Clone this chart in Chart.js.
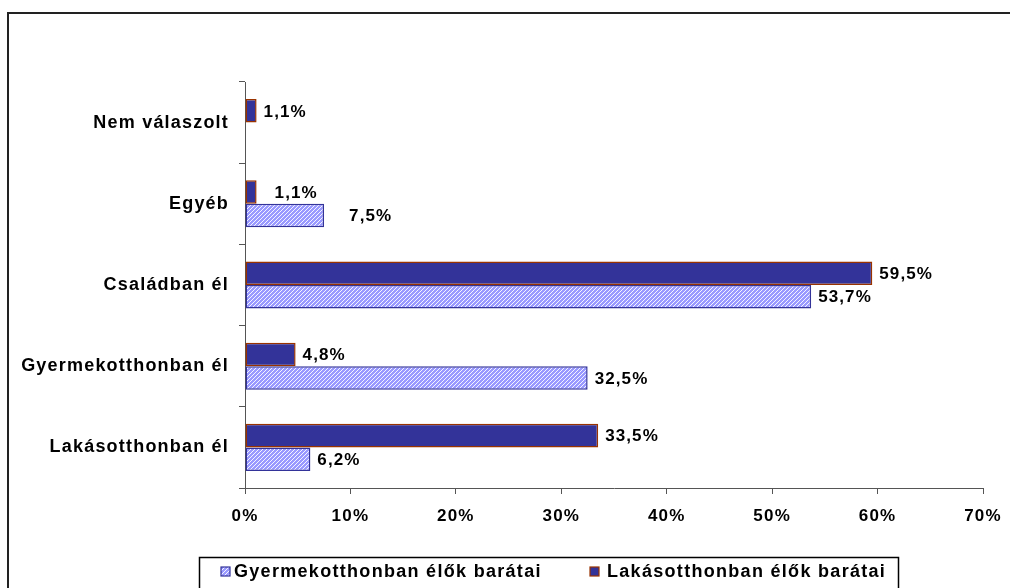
<!DOCTYPE html>
<html>
<head>
<meta charset="utf-8">
<script src="https://cdn.jsdelivr.net/npm/chart.js@4.4.0/dist/chart.umd.min.js"></script>
<style>
  html, body { margin: 0; padding: 0; background: #fff; }
  #wrap { width: 1010px; height: 588px; }
</style>
</head>
<body>
<div id="wrap"><canvas id="chart" width="1010" height="588"></canvas></div>
<script>
// categories top to bottom
const categories = ['Nem válaszolt', 'Egyéb', 'Családban él', 'Gyermekotthonban él', 'Lakásotthonban él'];
const seriesNames = ['Lakásotthonban élők barátai', 'Gyermekotthonban élők barátai'];
const lakasValues = [1.1, 1.1, 59.5, 4.8, 33.5];
const gyermekValues = [null, 7.5, 53.7, 32.5, 6.2];
const xMin = 0, xMax = 70, xStep = 10;

const canvas = document.getElementById('chart');
const ctx = canvas.getContext('2d');
const SPACING = '1.2px';
const FAMILY = '"Liberation Sans", Arial, sans-serif';
const valueFont = 'bold 17px ' + FAMILY;
const legendFont = 'bold 18px ' + FAMILY;

function makeHatch() {
  const c = document.createElement('canvas');
  c.width = 4; c.height = 4;
  const g = c.getContext('2d');
  g.fillStyle = '#9999ff';
  g.fillRect(0, 0, 4, 4);
  g.strokeStyle = '#f4f4ff';
  g.lineWidth = 1;
  g.beginPath();
  g.moveTo(0, 4); g.lineTo(4, 0);
  g.moveTo(-1, 1); g.lineTo(1, -1);
  g.moveTo(3, 5); g.lineTo(5, 3);
  g.stroke();
  return ctx.createPattern(c, 'repeat');
}
const hatch = makeHatch();

function fmt(v) {
  return v.toFixed(1).replace('.', ',') + '%';
}

// the "Egyéb" labels were pushed a bit further right in the original
const labelShift = { '0-1': 11, '1-1': 18 };

// frame, value labels and the boxed legend
const extras = {
  id: 'extras',
  beforeLayout(chart) { chart.ctx.letterSpacing = SPACING; },
  beforeDraw(chart) {
    const c = chart.ctx;
    c.letterSpacing = SPACING;
    c.save();
    c.fillStyle = '#fff';
    c.fillRect(0, 0, chart.width, chart.height);
    c.strokeStyle = '#222';
    c.lineWidth = 2;
    c.strokeRect(8, 13, 1200, 800);
    c.restore();
  },
  afterDatasetsDraw(chart) {
    const c = chart.ctx;
    c.save();
    c.letterSpacing = '1.1px';
    c.font = valueFont;
    c.fillStyle = '#000';
    c.textAlign = 'left';
    c.textBaseline = 'middle';
    chart.data.datasets.forEach((ds, i) => {
      const meta = chart.getDatasetMeta(i);
      meta.data.forEach((el, j) => {
        const v = ds.data[j];
        if (v === null || v === undefined) return;
        const shift = labelShift[i + '-' + j] || 0;
        c.fillText(fmt(v), el.x + 7 + shift, el.y + 1);
      });
    });
    c.restore();
  },
  afterDraw(chart) {
    const c = chart.ctx;
    c.save();
    c.letterSpacing = '1.3px';
    c.strokeStyle = '#000';
    c.lineWidth = 1.5;
    c.strokeRect(199.5, 557.5, 699, 60);
    c.font = legendFont;
    c.textBaseline = 'middle';
    // legend order as in the original: hatched series first
    const items = [
      { ds: chart.data.datasets[1], box: 221, text: 234 },
      { ds: chart.data.datasets[0], box: 590, text: 607 }
    ];
    items.forEach(it => {
      c.fillStyle = it.ds.backgroundColor;
      c.fillRect(it.box, 567, 9, 9);
      c.strokeStyle = it.ds.borderColor;
      c.lineWidth = 1.2;
      c.strokeRect(it.box, 567, 9, 9);
      c.fillStyle = '#000';
      c.fillText(it.ds.label, it.text, 572);
    });
    c.restore();
  }
};

const chart = new Chart(ctx, {
  type: 'bar',
  data: {
    labels: categories,
    datasets: [
      {
        label: seriesNames[0],
        data: lakasValues,
        backgroundColor: '#333399',
        borderColor: '#993300',
        borderWidth: 1.5,
        borderSkipped: false
      },
      {
        label: seriesNames[1],
        data: gyermekValues,
        backgroundColor: hatch,
        borderColor: '#333399',
        borderWidth: 1.5,
        borderSkipped: false
      }
    ]
  },
  options: {
    indexAxis: 'y',
    responsive: false,
    animation: false,
    layout: { padding: { left: 0, top: 82, right: 27, bottom: 0 } },
    datasets: { bar: { categoryPercentage: 0.58, barPercentage: 1 } },
    plugins: { legend: { display: false }, tooltip: { enabled: false } },
    scales: {
      x: {
        min: xMin,
        max: xMax,
        ticks: { stepSize: xStep, color: '#000', font: { family: FAMILY, size: 17, weight: 'bold' }, padding: 12, callback: v => v + '%' },
        grid: { drawOnChartArea: false, drawTicks: true, tickLength: 6, color: '#555' },
        border: { color: '#555', width: 1 },
        afterFit: s => { s.height = 100; s.paddingRight = 0; s.paddingLeft = 0; }
      },
      y: {
        ticks: { color: '#000', font: { family: FAMILY, size: 18, weight: 'bold' }, padding: 10 },
        grid: { drawOnChartArea: false, drawTicks: true, tickLength: 6, color: '#555' },
        border: { color: '#555', width: 1 },
        afterFit: s => { s.width = 245; }
      }
    }
  },
  plugins: [extras]
});
</script>
</body>
</html>
